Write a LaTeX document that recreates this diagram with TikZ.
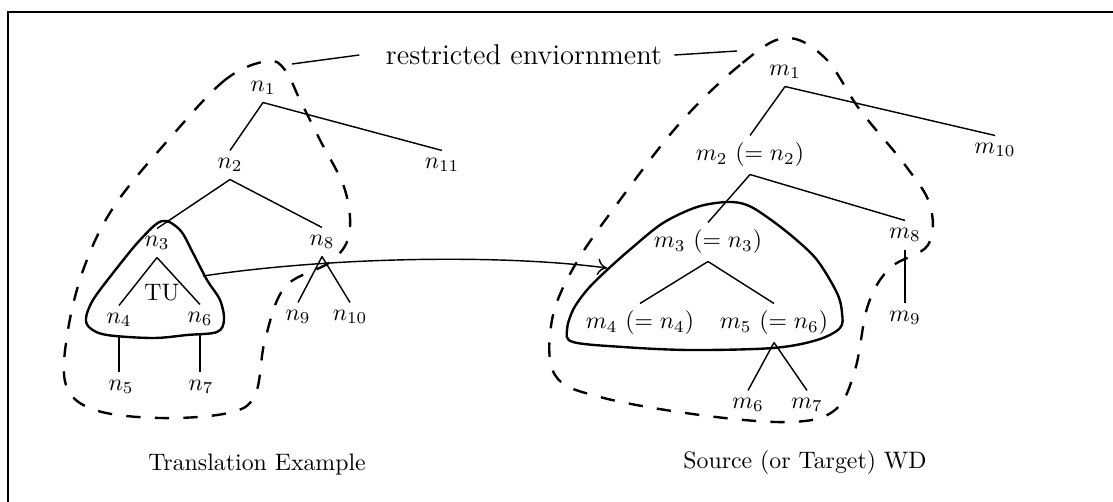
\documentclass[tikz,border=0pt]{standalone}
\usepackage{amsmath,amssymb}
\usepackage{tikz}
\usetikzlibrary{arrows.meta}

\begin{document}
\begin{tikzpicture}[x=0.42pt,y=-0.42pt,
  tn/.style={inner sep=3pt},
  tl/.style={line width=0.6pt},
  envline/.style={line width=1pt,dash pattern=on 6pt off 6pt},
  blob/.style={line width=1pt}]
\useasboundingbox (0,0) rectangle (1113,502);
\draw[line width=0.6pt] (8,502) -- (8,12) -- (1113,12);
% translation example
\node[tn] (n1) at (263,88) {$n_1$};
\node[tn] (n2) at (230,165) {$n_2$};
\node[tn] (n11) at (442,165) {$n_{11}$};
\node[tn] (n3) at (157,243) {$n_3$};
\node[tn] (n8) at (322,242) {$n_8$};
\node[tn] (n4) at (119,320) {$n_4$};
\node[tn] (n6) at (200,319) {$n_6$};
\node[tn] (n9) at (298,317) {$n_9$};
\node[tn] (n10) at (350,317) {$n_{10}$};
\node[tn] (n5) at (121,387) {$n_5$};
\node[tn] (n7) at (201,387) {$n_7$};
\node (tu) at (162,293) {TU};
\foreach \a/\b in {n1/n2,n1/n11,n2/n3,n2/n8,n3/n4,n3/n6,n8/n9,n8/n10} {
    \draw[tl] (\a.south) -- (\b.north);
}
\draw[tl] (n4.south) -- (n4.south |- n5.north);
\draw[tl] (n6.south) -- (n6.south |- n7.north);
\draw[blob] plot[smooth cycle,tension=0.55] coordinates {(162,221) (140,240) (113,273) (93,300) (86,318) (90,328) (107,335) (153,338) (187,335) (217,332) (224,320) (220,300) (207,280) (193,253) (180,230)};
\draw[envline] plot[smooth cycle,tension=0.6] coordinates {(267,61) (225,80) (170,138) (115,205) (85,265) (68,330) (66,385) (95,410) (160,418) (228,413) (255,395) (265,340) (285,287) (330,262) (349,235) (345,190) (320,140) (300,100) (285,70)};
% source (or target) WD
\node[tn] (m1) at (785,72) {$m_1$};
\node[tn] (m2) at (750,155) {$m_2\ (= n_2)$};
\node[tn] (m10) at (995,150) {$m_{10}$};
\node[tn] (m3) at (708,242) {$m_3\ (= n_3)$};
\node[tn] (m8) at (905,235) {$m_8$};
\node[tn] (m9) at (905,318) {$m_9$};
\node[tn] (m4) at (640,323) {$m_4\ (= n_4)$};
\node[tn] (m5) at (774,323) {$m_5\ (= n_6)$};
\node[tn] (m6) at (748,405) {$m_6$};
\node[tn] (m7) at (807,405) {$m_7$};
\foreach \a/\b in {m1/m2,m1/m10,m2/m3,m2/m8,m3/m4,m3/m5,m5/m6,m5/m7,m8/m9} {
    \draw[tl] (\a.south) -- (\b.north);
}
\draw[blob] plot[smooth cycle,tension=0.55] coordinates {(727,202) (697,207) (663,223) (633,247) (607,270) (587,290) (573,310) (567,330) (573,342) (623,347) (690,350) (773,348) (817,340) (840,328) (842,313) (837,293) (817,260) (793,237) (767,217) (747,205)};
\draw[envline] plot[smooth cycle,tension=0.6] coordinates {(785,38) (740,65) (680,123) (620,200) (575,265) (552,320) (555,375) (600,397) (700,415) (790,422) (835,410) (855,370) (868,305) (890,268) (928,245) (930,205) (905,165) (860,110) (825,58)};
% arrow and labels
\coordinate (tuR) at (203,276);
\coordinate (wdL) at (607,268);
\draw[tl,-{To[length=4pt,width=7pt]}] (tuR) .. controls (330,257) and (500,254) .. (wdL);
\node[inner sep=2pt] (env) at (524,55) {\large restricted enviornment};
\coordinate (envL) at (292,64);
\coordinate (envR) at (737,51);
\draw[tl] ([xshift=-9pt]env.west) -- (envL);
\draw[tl] ([xshift=3pt]env.east) -- (envR);
\node (tex) at (257,465) {Translation Example};
\node (wd) at (805,463) {Source (or Target) WD};
\end{tikzpicture}
\end{document}
